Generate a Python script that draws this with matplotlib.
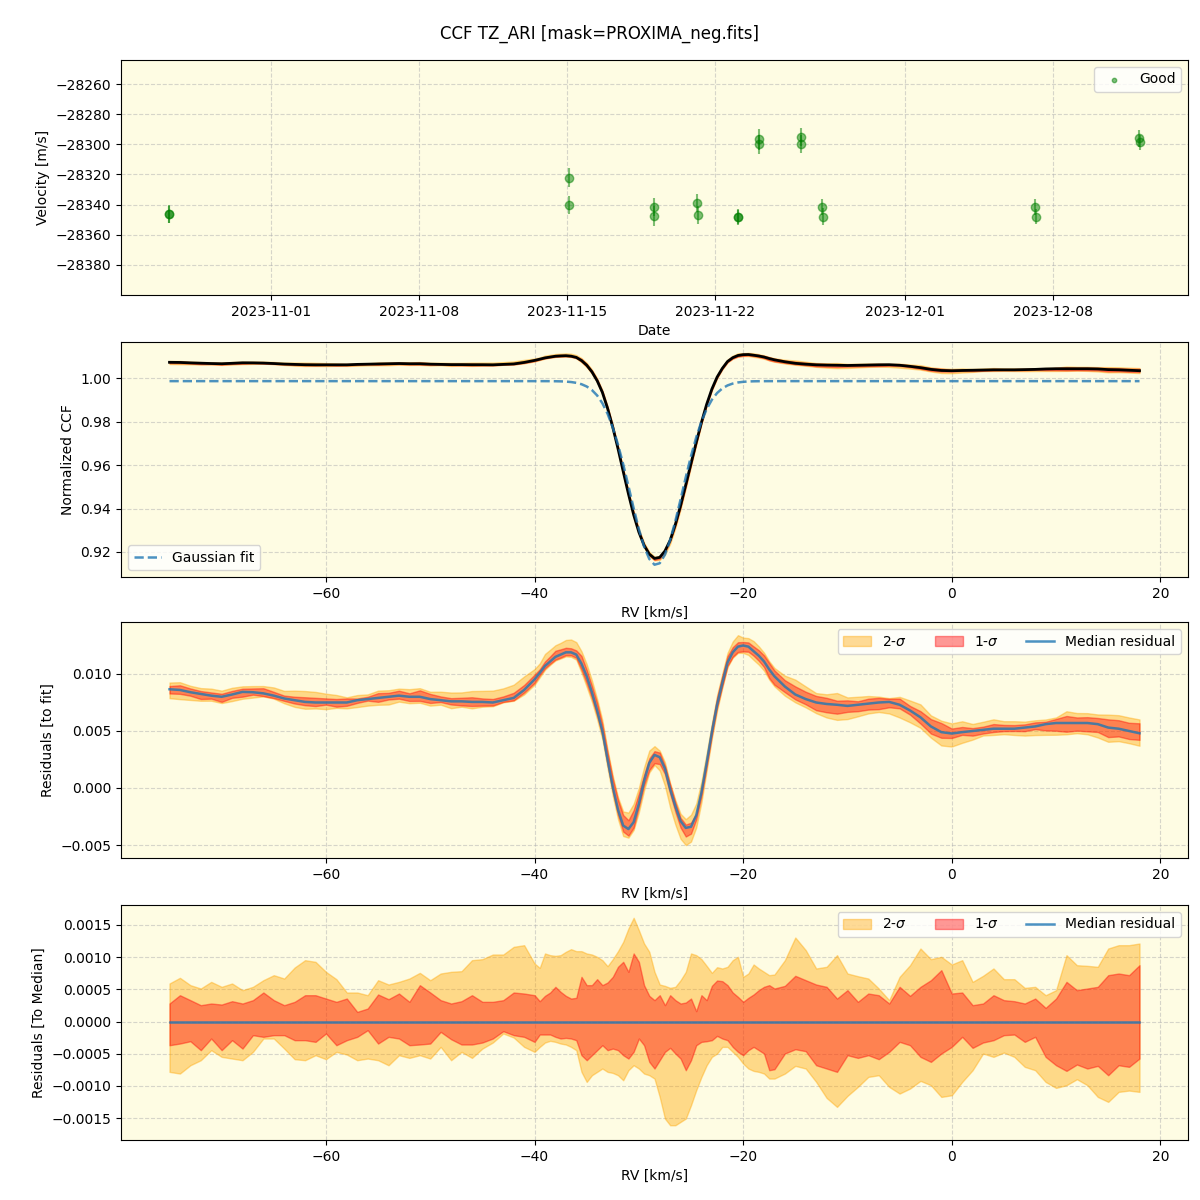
import numpy as np
import matplotlib
matplotlib.use('Agg')
import matplotlib.pyplot as plt
import matplotlib.dates as mdates
from datetime import datetime

# --- RV time series (top panel) ---
obs_dates = ['2023-10-27 04:00', '2023-10-27 04:20',
             '2023-11-15 02:00', '2023-11-15 02:20',
             '2023-11-19 03:00', '2023-11-19 03:20',
             '2023-11-21 04:00', '2023-11-21 04:20',
             '2023-11-23 02:00', '2023-11-23 02:20',
             '2023-11-24 02:00', '2023-11-24 02:20',
             '2023-11-26 02:00', '2023-11-26 02:20',
             '2023-11-27 02:00', '2023-11-27 02:20',
             '2023-12-07 04:00', '2023-12-07 04:20',
             '2023-12-12 02:00', '2023-12-12 02:20']
velocity = [-28346, -28346.5, -28322, -28340, -28341.5, -28347.5, -28339, -28347,
            -28348, -28348.5, -28296.5, -28300, -28295, -28300, -28341.5, -28348,
            -28341.5, -28348, -28296, -28298.5]
velocity_err = [6, 5.5, 6.5, 6, 6, 6.5, 6, 6, 5, 5, 7, 6.5, 6, 6, 5.5, 5.5, 5.5, 5, 5.5, 5]

# --- CCF residual profiles ---
rv = np.concatenate([np.arange(-75, -40, 1.0), np.arange(-40, -16.9, 0.5), np.arange(-16, 18.1, 1.0)])

# median residual to the gaussian fit (x1e-3)
res_median = np.array([
    8.66, 8.60, 8.40, 8.25, 8.10, 8.00, 8.20, 8.43, 8.40, 8.30,
    8.10, 7.85, 7.70, 7.55, 7.50, 7.50, 7.50, 7.50, 7.70, 7.80,
    7.90, 8.00, 8.10, 8.00, 8.00, 7.80, 7.70, 7.60, 7.60, 7.55,
    7.55, 7.50, 7.70, 7.90, 8.60,
    9.53, 10.1, 10.7, 11.1, 11.5, 11.7, 11.9, 11.9, 11.7, 10.9,
    9.8, 8.4, 6.8, 5.0, 2.5, 0.1, -1.9, -3.3, -3.6, -3.0, -1.4,
    0.6, 2.2, 2.9, 2.7, 1.7, -0.1, -1.6, -2.9, -3.5, -3.4,
    -2.4, -0.4, 2.2, 4.9, 7.3, 9.2, 11.0, 11.9, 12.4, 12.5,
    12.4, 12.0, 11.6, 11.1, 10.4, 9.8,
    8.9, 8.2, 7.8, 7.5, 7.37, 7.3, 7.2, 7.3, 7.4, 7.5,
    7.55, 7.3, 6.8, 6.2, 5.4, 4.9,
    4.78, 4.9, 5.0, 5.1, 5.2, 5.2, 5.2, 5.3, 5.4, 5.6,
    5.7, 5.7, 5.7, 5.7, 5.6, 5.3, 5.2, 5.0, 4.8]) * 1e-3

# band offsets relative to the median (x1e-4)
up2 = np.array([
    5.91, 6.79, 5.65, 5.13, 6.16, 5.39, 5.91, 4.87, 5.39, 6.42,
    7.20, 6.68, 8.39, 9.53, 9.27, 7.72, 6.58, 4.51, 4.51, 4.09,
    6.42, 5.75, 6.16, 6.68, 7.56, 6.42, 7.46, 7.72, 7.82, 9.53,
    9.69, 10.41, 10.41, 11.60, 11.86,
    9.01, 8.34, 10.57, 10.31, 10.20, 10.31, 10.83, 11.24, 10.93, 10.93,
    10.57, 10.41, 10.05, 9.53, 8.60, 9.69, 10.93, 12.38, 14.45, 16.11, 14.19,
    12.12, 10.83, 7.72, 5.75, 5.54, 5.23, 5.39, 6.42, 7.72, 10.57,
    10.31, 9.69, 8.65, 7.56, 8.44, 8.24, 8.50, 9.53, 10.05, 6.94,
    7.46, 8.86, 8.24, 7.72, 7.20, 7.30,
    9.53, 13.05, 11.09, 8.24, 8.50, 10.31, 7.46, 7.04, 6.68, 5.13,
    3.32, 6.94, 8.75, 11.34, 9.69, 10.05,
    8.86, 9.53, 6.16, 7.10, 8.24, 6.58, 6.58, 5.23, 5.39, 4.09,
    4.87, 10.31, 8.75, 8.65, 8.50, 11.34, 11.86, 11.86, 12.12]) * 1e-4
up1 = np.array([
    2.80, 4.09, 3.32, 2.54, 2.80, 2.64, 3.16, 2.80, 3.32, 4.51,
    3.32, 2.54, 3.06, 4.09, 4.09, 3.57, 3.06, 3.57, 1.50, 2.02,
    4.20, 3.47, 4.35, 3.06, 5.65, 4.51, 3.32, 2.80, 3.16, 4.09,
    3.06, 3.06, 3.32, 4.51, 4.35,
    4.09, 3.16, 3.99, 4.51, 5.39, 4.61, 3.99, 3.57, 3.68, 6.94,
    5.65, 5.65, 6.58, 5.65, 6.06, 6.94, 8.50, 9.27, 7.72, 10.57, 9.27,
    5.65, 3.99, 3.32, 4.09, 2.54, 4.09, 3.32, 2.80, 2.95, 3.57,
    1.61, 4.09, 3.32, 5.54, 6.37, 6.27, 5.65, 4.51, 3.83, 3.06,
    3.68, 4.20, 4.87, 5.39, 5.65, 5.13,
    5.54, 7.10, 6.42, 5.75, 5.39, 3.57, 4.87, 3.06, 4.35, 4.09,
    2.80, 5.39, 3.99, 5.39, 6.42, 7.98,
    4.35, 4.51, 2.54, 2.80, 4.09, 3.32, 3.16, 2.80, 3.57, 2.12,
    3.57, 6.16, 4.87, 5.13, 5.39, 7.20, 7.46, 7.20, 8.75]) * 1e-4
lo1 = np.array([
    -3.68, -3.42, -3.06, -4.45, -2.64, -4.45, -2.90, -4.20, -2.12, -2.38,
    -2.12, -2.12, -2.90, -2.90, -3.16, -1.86, -3.68, -2.90, -2.38, -1.35,
    -3.42, -2.38, -2.64, -3.68, -3.57, -3.42, -1.61, -2.75, -3.57, -3.57,
    -3.26, -2.64, -1.50, -2.12, -2.38,
    -3.16, -2.02, -2.02, -2.02, -2.38, -2.64, -2.54, -2.64, -2.90, -5.23,
    -6.01, -5.23, -4.45, -3.68, -4.45, -4.20, -4.45, -5.23, -5.75, -4.71, -2.64,
    -3.68, -6.27, -7.30, -6.01, -4.71, -4.09, -4.97, -5.75, -7.56, -6.01,
    -3.68, -3.16, -3.06, -2.90, -2.23, -2.64, -2.90, -3.94, -4.71, -5.23,
    -4.45, -3.94, -4.45, -4.97, -7.56, -7.41,
    -4.97, -4.30, -4.61, -6.79, -7.30, -7.82, -5.23, -5.65, -5.23, -5.85,
    -4.71, -3.16, -3.68, -5.49, -6.27, -4.97,
    -3.94, -2.38, -4.09, -3.26, -2.90, -2.12, -2.02, -3.16, -2.38, -5.49,
    -6.79, -7.67, -6.68, -7.30, -6.89, -8.34, -6.79, -7.04, -5.75]) * 1e-4
lo2 = np.array([
    -7.82, -8.08, -6.79, -6.01, -4.45, -5.49, -5.75, -6.01, -4.71, -2.64,
    -2.64, -4.20, -5.85, -6.01, -5.23, -5.85, -4.71, -5.13, -6.01, -5.75,
    -6.01, -6.79, -5.23, -5.65, -5.23, -5.75, -3.94, -6.01, -4.71, -5.65,
    -4.20, -3.26, -1.86, -2.49, -3.94,
    -4.71, -3.94, -3.26, -3.00, -3.16, -3.42, -3.57, -3.94, -4.45, -7.82,
    -9.38, -8.34, -7.82, -7.30, -7.82, -7.98, -8.34, -9.12, -7.56, -6.79, -7.30,
    -8.08, -8.34, -8.86, -11.71, -15.07, -16.11, -16.11, -15.59, -15.07, -13.00,
    -10.67, -8.60, -6.79, -5.49, -4.97, -3.94, -3.94, -4.71, -5.49, -6.53,
    -7.30, -7.67, -7.82, -8.08, -8.86, -8.86,
    -8.08, -6.89, -7.30, -9.38, -11.86, -13.26, -11.55, -10.15, -8.60, -8.34,
    -10.15, -11.19, -10.41, -9.22, -9.89, -11.71,
    -11.45, -9.38, -7.56, -4.97, -5.49, -4.82, -5.49, -7.04, -7.56, -9.38,
    -10.31, -9.89, -8.96, -9.89, -11.71, -12.48, -10.93, -10.72, -10.93]) * 1e-4

# gaussian fit parameters
g_cont = 0.9986
g_depth = 0.0846
g_center = -28.35
g_sigma = 2.5

gauss_fit = g_cont - g_depth * np.exp(-0.5 * ((rv - g_center) / g_sigma) ** 2)
ccf_median = gauss_fit + res_median

bg = '#fefce3'
fig = plt.figure(figsize=(12, 12), dpi=100)
fig.suptitle('CCF TZ_ARI [mask=PROXIMA_neg.fits]', y=0.979)

def panel_axes(top_px, bottom_px):
    return fig.add_axes([121 / 1200, 1 - bottom_px / 1200, 1067 / 1200, (bottom_px - top_px) / 1200])

ax1 = panel_axes(60, 295)
ax2 = panel_axes(342, 577)
ax3 = panel_axes(622, 858)
ax4 = panel_axes(905, 1140)

for ax in (ax1, ax2, ax3, ax4):
    ax.set_facecolor(bg)
    ax.grid(True, linestyle='--', color='#b0b0b0', alpha=0.5)
    ax.set_axisbelow(True)

# top: velocities
dates = [datetime.strptime(d, '%Y-%m-%d %H:%M') for d in obs_dates]
ax1.errorbar(dates, velocity, yerr=velocity_err, fmt='o', color='green', ms=6, alpha=0.5, elinewidth=1.5)
ax1.scatter([], [], color='green', alpha=0.5, s=10, label='Good')
ax1.legend(loc='upper right')
ax1.set_xlim(datetime(2023, 10, 24, 21, 40), datetime(2023, 12, 14, 9, 20))
ax1.set_ylim(-28400, -28244)
ax1.set_yticks(np.arange(-28380, -28259, 20))
ax1.xaxis.set_major_locator(mdates.DayLocator(bymonthday=[1, 8, 15, 22]))
ax1.xaxis.set_major_formatter(mdates.DateFormatter('%Y-%m-%d'))
ax1.set_xlabel('Date')
ax1.set_ylabel('Velocity [m/s]')

# CCF
ax2.fill_between(rv, ccf_median + lo2, ccf_median + up2, color='orange', alpha=0.4)
ax2.fill_between(rv, ccf_median + lo1, ccf_median + up1, color='red', alpha=0.4)
ax2.plot(rv, ccf_median, color='black', lw=2)
ax2.plot(rv, gauss_fit, '--', color='C0', lw=1.8, alpha=0.8, label='Gaussian fit')
ax2.legend(loc='lower left')
ax2.set_ylim(0.9085, 1.0166)
ax2.set_xlabel('RV [km/s]')
ax2.set_ylabel('Normalized CCF')

# residuals to fit
ax3.fill_between(rv, res_median + lo2, res_median + up2, color='orange', alpha=0.4, label='2-$\\sigma$')
ax3.fill_between(rv, res_median + lo1, res_median + up1, color='red', alpha=0.4, label='1-$\\sigma$')
ax3.plot(rv, res_median, color='C0', lw=1.8, alpha=0.8, label='Median residual')
ax3.legend(loc='upper right', ncol=3)
ax3.set_ylim(-0.00614, 0.01456)
ax3.set_xlabel('RV [km/s]')
ax3.set_ylabel('Residuals [to fit]')

# residuals to median
ax4.fill_between(rv, lo2, up2, color='orange', alpha=0.4, label='2-$\\sigma$')
ax4.fill_between(rv, lo1, up1, color='red', alpha=0.4, label='1-$\\sigma$')
ax4.plot(rv, np.zeros_like(rv), color='C0', lw=1.8, alpha=0.8, label='Median residual')
ax4.legend(loc='upper right', ncol=3)
ax4.set_ylim(-0.00184, 0.00181)
ax4.set_xlabel('RV [km/s]')
ax4.set_ylabel('Residuals [To Median]')

for ax in (ax2, ax3, ax4):
    ax.set_xlim(-79.65, 22.65)

fig.savefig('out.png', dpi=100)
